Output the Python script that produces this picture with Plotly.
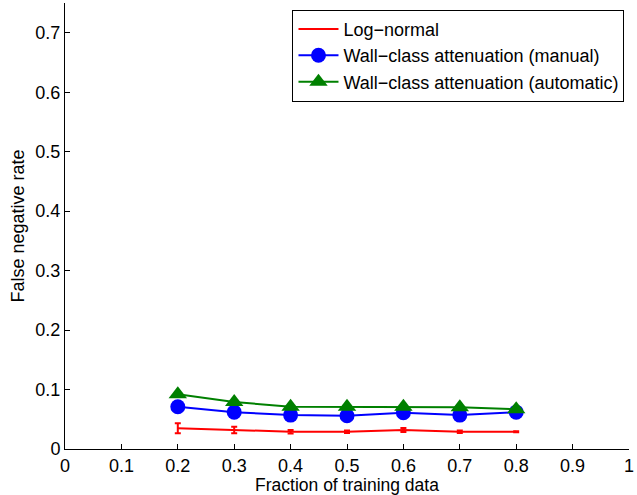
import plotly.graph_objects as go

fractions = [0.2, 0.3, 0.4, 0.5, 0.6, 0.7, 0.8]
lognormal = [0.035, 0.032, 0.029, 0.029, 0.032, 0.029, 0.029]
lognormal_err = [0.0085, 0.0056, 0.003, 0.002, 0.0035, 0.002, 0.001]
manual = [0.071, 0.062, 0.057, 0.056, 0.061, 0.057, 0.062]
automatic = [0.092, 0.079, 0.071, 0.071, 0.071, 0.070, 0.067]
x_ticks = [0, 0.1, 0.2, 0.3, 0.4, 0.5, 0.6, 0.7, 0.8, 0.9, 1]
y_ticks = [0, 0.1, 0.2, 0.3, 0.4, 0.5, 0.6, 0.7]

FONT = "Liberation Sans, Arial, sans-serif"

fig = go.Figure()
fig.add_trace(go.Scatter(
    x=fractions, y=lognormal, mode="lines", name="Log\u2212normal",
    line=dict(color="#ff0000", width=2),
    error_y=dict(type="data", array=lognormal_err, color="#ff0000", thickness=2, width=3),
))
fig.add_trace(go.Scatter(
    x=fractions, y=manual, mode="lines+markers", name="Wall\u2212class attenuation (manual)",
    line=dict(color="#0000ff", width=2),
    marker=dict(symbol="circle", size=15, color="#0000ff"),
))
fig.add_trace(go.Scatter(
    x=fractions, y=automatic, mode="lines+markers", name="Wall\u2212class attenuation (automatic)",
    line=dict(color="#008000", width=2),
    marker=dict(symbol="triangle-up", size=16, color="#008000"),
))

axis_common = dict(
    showline=True, linecolor="black", linewidth=1, mirror=False,
    ticks="inside", ticklen=5, tickcolor="black", showgrid=False, zeroline=False,
    tickfont=dict(family=FONT, size=18, color="black"),
)
fig.update_xaxes(range=[0, 1], tickvals=x_ticks, ticktext=[f"{v:g}" for v in x_ticks],
                 title=dict(text="Fraction of training data", standoff=0,
                            font=dict(family=FONT, size=17.5, color="black")),
                 **axis_common)
fig.update_yaxes(range=[0, 0.75], tickvals=y_ticks, ticktext=[f"{v:g}" for v in y_ticks],
                 title=dict(text="False negative rate", standoff=6,
                            font=dict(family=FONT, size=18, color="black")),
                 **axis_common)

fig.update_layout(
    width=637, height=495,
    margin=dict(l=65, r=8, t=3, b=46),
    paper_bgcolor="white", plot_bgcolor="white",
    font=dict(family=FONT, size=18, color="black"),
    showlegend=True,
    legend=dict(x=0.992, y=0.985, xanchor="right", yanchor="top",
                bordercolor="black", borderwidth=1, bgcolor="white",
                font=dict(family=FONT, size=18), tracegroupgap=0, itemwidth=40,
                traceorder="normal"),
)

fig.write_html("out.html")
